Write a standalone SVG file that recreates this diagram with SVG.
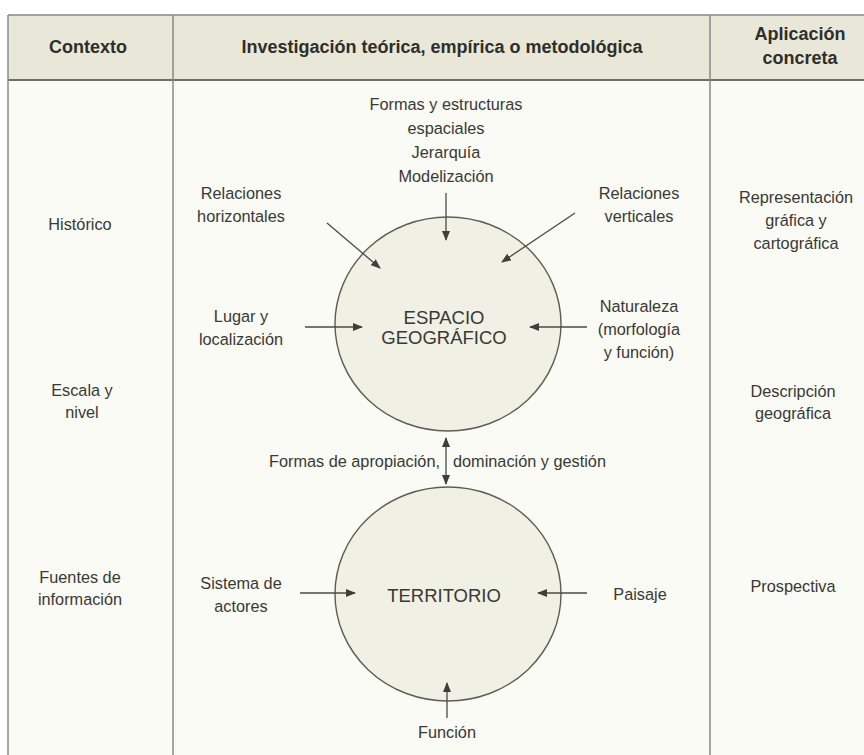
<svg xmlns="http://www.w3.org/2000/svg" width="864" height="755" viewBox="0 0 864 755">
<defs>
<style>
text{font-family:"Liberation Sans",Arial,sans-serif;fill:#383834;text-anchor:middle;font-size:16.3px}
.h{font-weight:bold;font-size:18px;fill:#2e2e2a}
.big{font-size:18.5px}
.grid{stroke:#8a8a84;stroke-width:1.5;fill:none}
.node{fill:#f1f0e4;stroke:#5e5e58;stroke-width:1.4}
.c{stroke:#4a4a46;stroke-width:1.3;fill:none;marker-end:url(#ah)}
</style>
<marker id="ah" viewBox="0 0 10 8" refX="9" refY="4" markerWidth="10" markerHeight="8" markerUnits="userSpaceOnUse" orient="auto-start-reverse">
<path d="M0,0 L10,4 L0,8 Z" fill="#3e3e3a"/>
</marker>
</defs>
<rect x="0" y="0" width="864" height="755" fill="#ffffff"/>
<rect x="8" y="15" width="856" height="65" fill="#e9e7d8"/>
<rect x="8" y="80" width="856" height="675" fill="#fbfbf6"/>
<g id="table">
<line class="grid" x1="8" y1="15" x2="864" y2="15"/>
<line x1="8" y1="80" x2="864" y2="80" stroke="#6e6e68" stroke-width="2"/>
<line class="grid" x1="8" y1="15" x2="8" y2="755"/>
<line class="grid" x1="173" y1="15" x2="173" y2="755"/>
<line class="grid" x1="710" y1="15" x2="710" y2="755"/>
<text class="h" x="88" y="53">Contexto</text>
<text class="h" x="442" y="53">Investigación teórica, empírica o metodológica</text>
<text class="h" x="800" y="40">Aplicación</text>
<text class="h" x="800" y="64">concreta</text>
</g>
<g id="contexto">
<text x="80" y="230">Histórico</text>
<text x="82" y="396">Escala y</text>
<text x="82" y="418">nivel</text>
<text x="80" y="583">Fuentes de</text>
<text x="80" y="605">información</text>
</g>
<g id="aplicacion">
<text x="796" y="203">Representación</text>
<text x="796" y="226">gráfica y</text>
<text x="796" y="249">cartográfica</text>
<text x="793" y="397">Descripción</text>
<text x="793" y="419">geográfica</text>
<text x="793" y="592">Prospectiva</text>
</g>
<g id="espacio">
<ellipse class="node" cx="448" cy="324" rx="113" ry="107"/>
<text class="big" x="444" y="324">ESPACIO</text>
<text class="big" x="444" y="344">GEOGRÁFICO</text>
</g>
<g id="territorio">
<ellipse class="node" cx="448" cy="594" rx="113" ry="107"/>
<text class="big" x="444" y="602">TERRITORIO</text>
</g>
<g id="labels">
<text x="446" y="110">Formas y estructuras</text>
<text x="446" y="134">espaciales</text>
<text x="446" y="158">Jerarquía</text>
<text x="446" y="182">Modelización</text>
<text x="241" y="199">Relaciones</text>
<text x="241" y="222">horizontales</text>
<text x="639" y="199">Relaciones</text>
<text x="639" y="222">verticales</text>
<text x="241" y="322">Lugar y</text>
<text x="241" y="345">localización</text>
<text x="639" y="312">Naturaleza</text>
<text x="639" y="335">(morfología</text>
<text x="639" y="358">y función)</text>
<text x="440" y="467" style="text-anchor:end">Formas de apropiación,</text>
<text x="453" y="467" style="text-anchor:start">dominación y gestión</text>
<text x="241" y="589">Sistema de</text>
<text x="241" y="612">actores</text>
<text x="640" y="600">Paisaje</text>
<text x="447" y="738">Función</text>
</g>
<g id="connectors">
<line class="c" x1="446" y1="193" x2="446" y2="240"/>
<line class="c" x1="327" y1="223" x2="380" y2="268"/>
<line class="c" x1="575" y1="213" x2="502" y2="262"/>
<line class="c" x1="305" y1="327" x2="362" y2="327"/>
<line class="c" x1="587" y1="327" x2="530" y2="327"/>
<line class="c" x1="446" y1="438" x2="446" y2="484" style="marker-start:url(#ah)"/>
<line class="c" x1="300" y1="593" x2="355" y2="593"/>
<line class="c" x1="587" y1="593" x2="538" y2="593"/>
<line class="c" x1="447" y1="718" x2="447" y2="683"/>
</g>
</svg>
